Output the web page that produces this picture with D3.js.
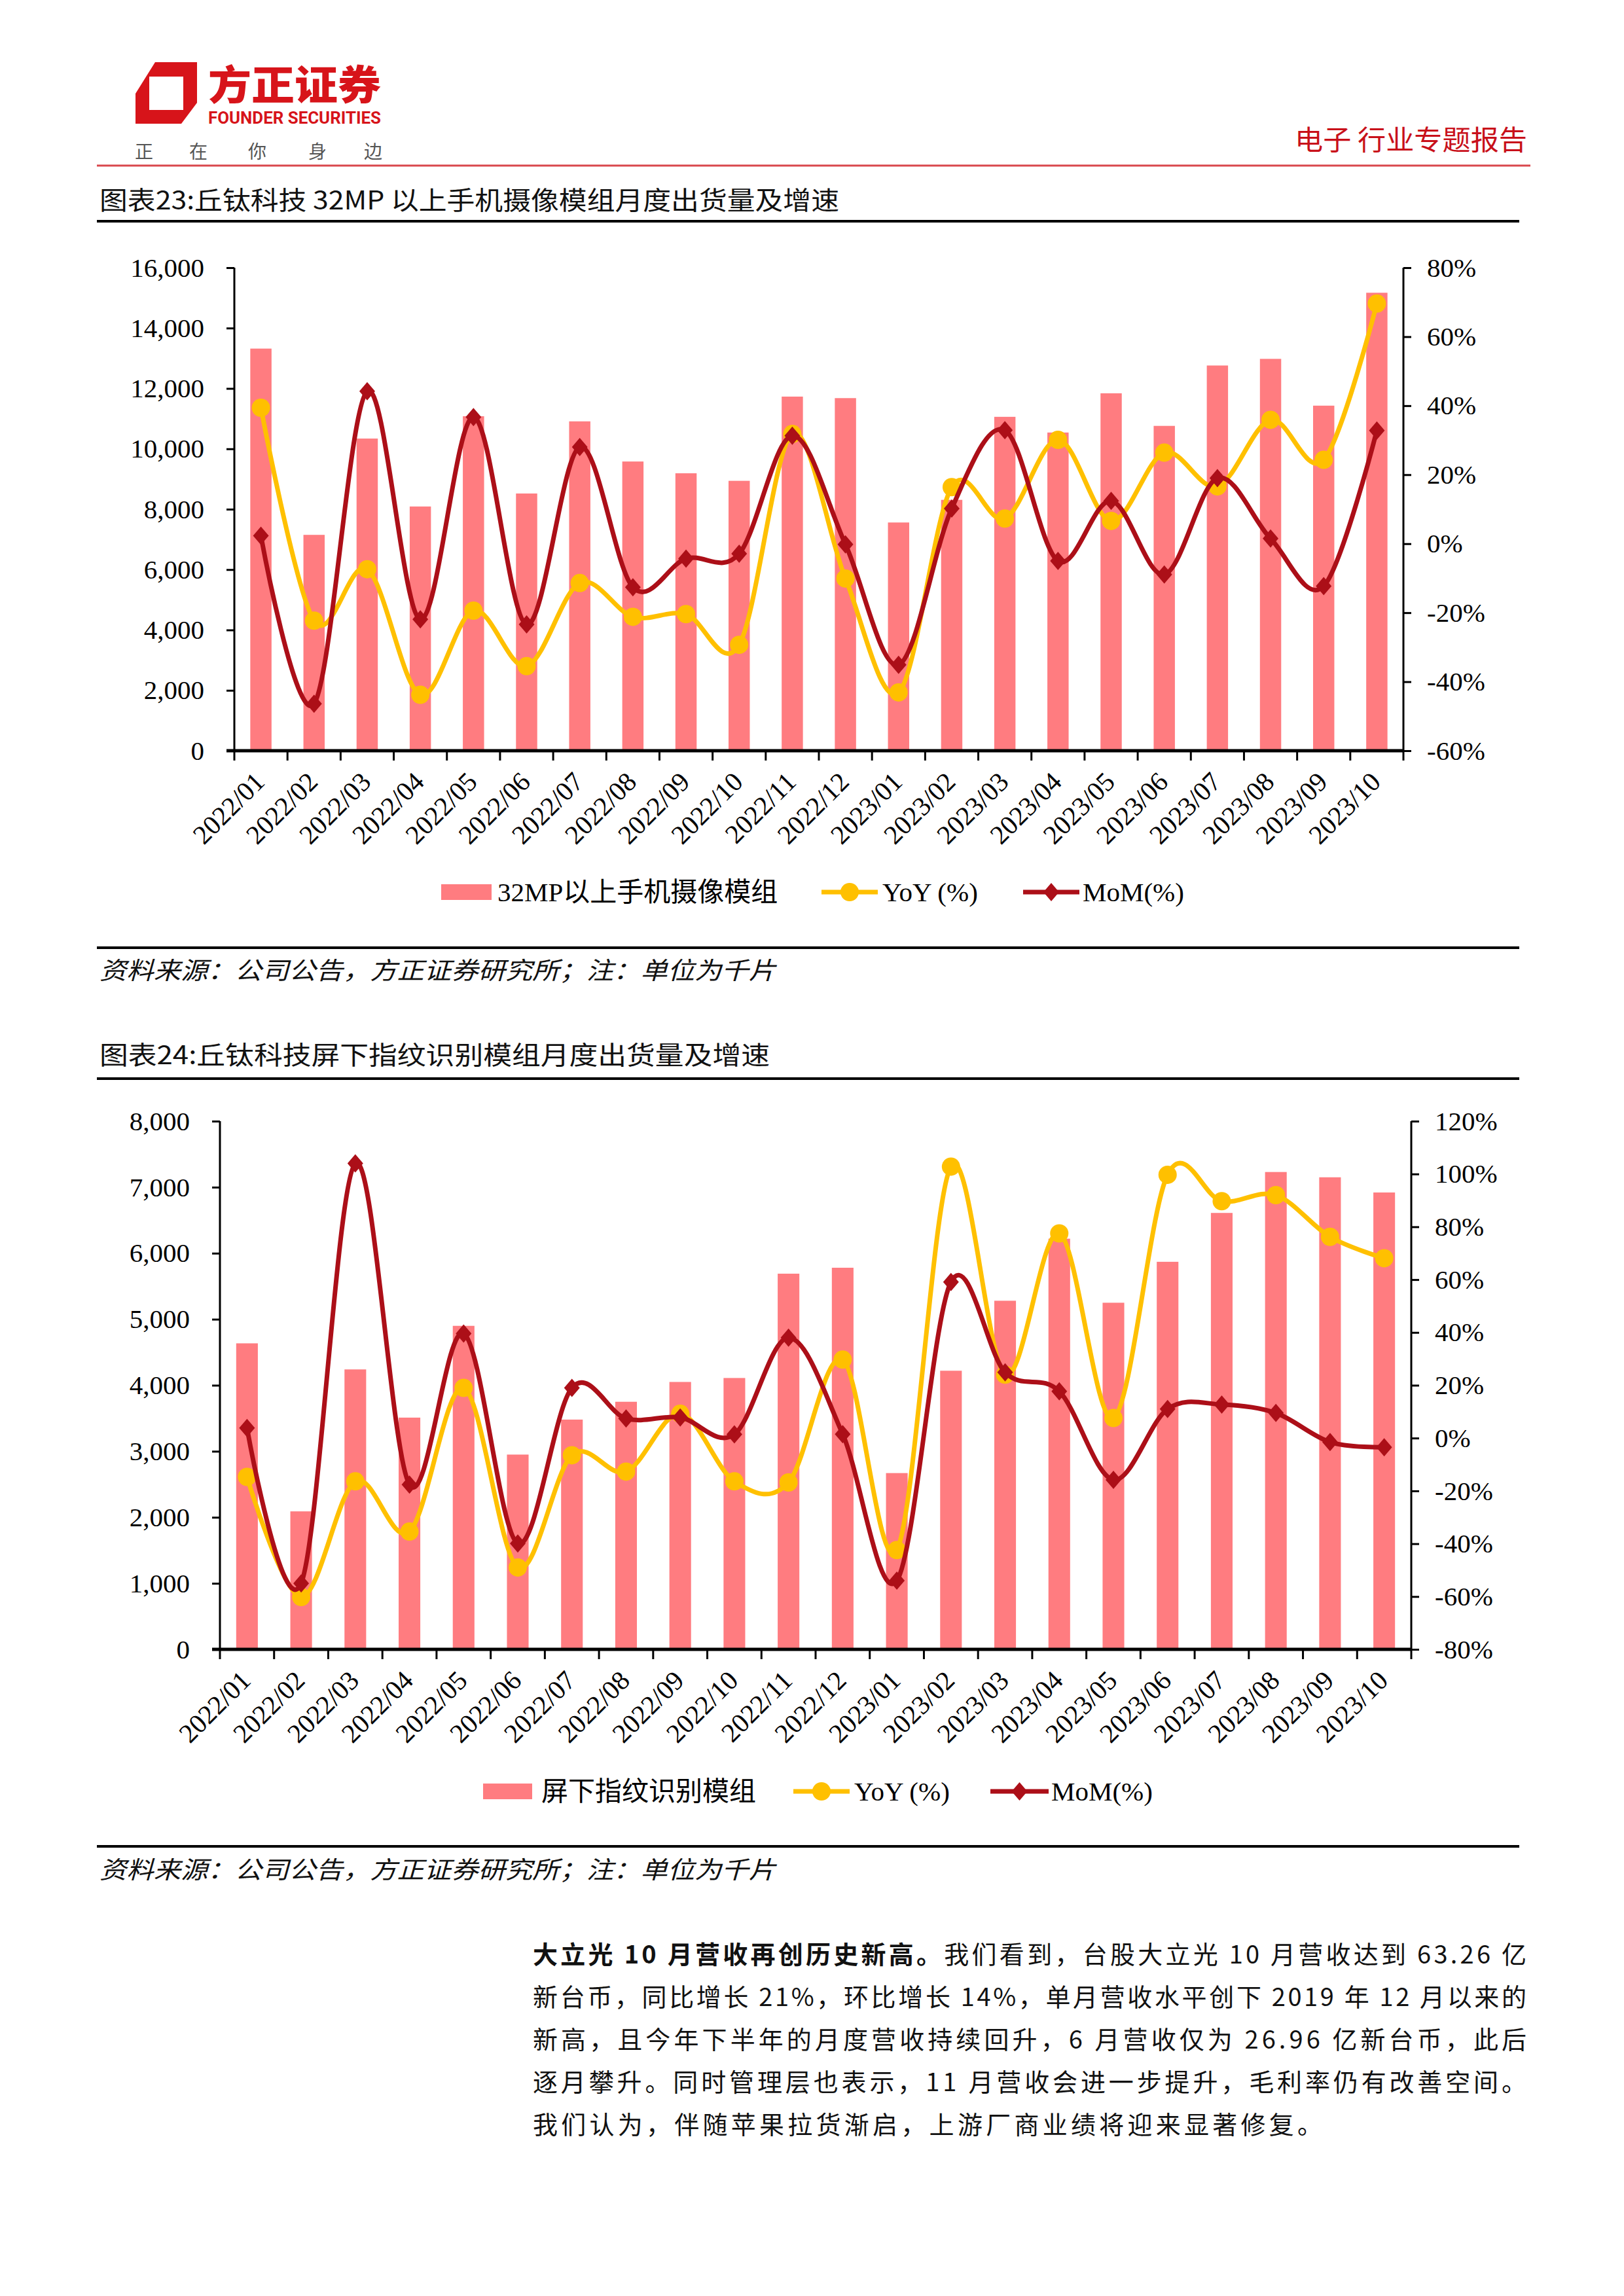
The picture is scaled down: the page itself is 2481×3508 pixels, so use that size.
<!DOCTYPE html>
<html><head><meta charset="utf-8">
<script src="https://cdn.jsdelivr.net/npm/d3@7"></script>
<style>
html,body{margin:0;padding:0;background:#fff;}
svg{display:block;}
</style></head>
<body>
<svg id="page" width="2481" height="3508"></svg>
<script>
// ---------- data ----------
const months = ['2022/01','2022/02','2022/03','2022/04','2022/05','2022/06','2022/07','2022/08','2022/09','2022/10','2022/11','2022/12',
                '2023/01','2023/02','2023/03','2023/04','2023/05','2023/06','2023/07','2023/08','2023/09','2023/10'];

const camVolume = [13320, 7150, 10340, 8090, 11080, 8520, 10910, 9580, 9190, 8940, 11730, 11680,
                   7560, 8310, 11060, 10540, 11840, 10760, 12760, 12980, 11430, 15170];
const camYoY = [39.4, -22.3, -7.4, -43.8, -19.4, -35.5, -11.4, -21.2, -20.4, -29.3, 31.8, -10.1,
                -43.1, 16.4, 7.3, 30.1, 6.6, 26.4, 16.6, 35.9, 24.3, 69.6];
const camMoM = [2.3, -46.4, 44.2, -21.9, 36.7, -23.4, 28.0, -12.6, -4.3, -2.9, 31.3, -0.2,
                -35.1, 10.2, 32.9, -5.0, 12.4, -8.9, 19.0, 1.5, -12.3, 32.8];

const fpVolume = [4635, 2090, 4240, 3510, 4900, 2950, 3480, 3750, 4050, 4110, 5690, 5780,
                  2670, 4220, 5280, 6220, 5250, 5870, 6610, 7230, 7150, 6920];
const fpYoY = [-14.7, -60.2, -16.4, -35.4, 19.0, -49.0, -6.5, -12.7, 9.2, -16.4, -16.8, 29.7,
               -42.4, 102.8, 24.0, 77.5, 7.6, 99.7, 89.7, 92.0, 76.2, 68.1];
const fpMoM = [3.8, -55.0, 104.0, -17.6, 39.6, -39.9, 19.0, 7.4, 7.8, 1.4, 38.0, 1.5,
               -54.0, 59.1, 24.9, 17.7, -15.8, 11.0, 12.7, 9.5, -1.5, -3.5];

const camLeftTicks = [0, 2000, 4000, 6000, 8000, 10000, 12000, 14000, 16000];
const camRightTicks = [-60, -40, -20, 0, 20, 40, 60, 80];
const fpLeftTicks = [0, 1000, 2000, 3000, 4000, 5000, 6000, 7000, 8000];
const fpRightTicks = [-80, -60, -40, -20, 0, 20, 40, 60, 80, 100, 120];

const camTitle = '图表23:丘钛科技 32MP 以上手机摄像模组月度出货量及增速';
const fpTitle = '图表24:丘钛科技屏下指纹识别模组月度出货量及增速';
const camLegend = ['32MP以上手机摄像模组', 'YoY (%)', 'MoM(%)'];
const fpLegend = ['屏下指纹识别模组', 'YoY (%)', 'MoM(%)'];
const sourceText = '资料来源：公司公告，方正证券研究所；注：单位为千片';

// ---------- style ----------
const BAR = '#FF7C80', YOY = '#FFC000', MOM = '#AC0F18';
const SERIF = '"Liberation Serif","Times New Roman","Noto Sans CJK SC",serif';
const CJK = '"Noto Sans CJK SC","Liberation Serif",sans-serif';
const svg = d3.select('#page');
svg.append('rect').attr('width', 2481).attr('height', 3508).attr('fill', '#fff');

// ---------- header ----------
const hdr = svg.append('g');
hdr.append('path')
  .attr('d', 'M237,95 L301,95 L301,157 L277,189 L207,189 L207,143 Z')
  .attr('fill', '#D7141A');
hdr.append('rect').attr('x', 228).attr('y', 117).attr('width', 52).attr('height', 51).attr('fill', '#fff');
hdr.append('text').attr('x', 318).attr('y', 153).attr('font-family', CJK).attr('font-weight', 900)
  .attr('font-size', 62).attr('fill', '#D7141A').attr('textLength', 264).attr('lengthAdjust', 'spacingAndGlyphs')
  .text('方正证券');
hdr.append('text').attr('x', 318).attr('y', 189).attr('font-family', '"Liberation Sans Narrow","Roboto","Open Sans",sans-serif')
  .attr('font-weight', 700).attr('font-size', 25).attr('fill', '#D7141A').attr('textLength', 264).attr('lengthAdjust', 'spacingAndGlyphs')
  .text('FOUNDER SECURITIES');
['正','在','你','身','边'].forEach((c, i) => {
  hdr.append('text').attr('x', [220, 303, 393, 485, 570][i]).attr('y', 242).attr('text-anchor', 'middle')
    .attr('font-family', CJK).attr('font-size', 28).attr('fill', '#555').text(c);
});
hdr.append('line').attr('x1', 148).attr('x2', 2338).attr('y1', 253).attr('y2', 253)
  .attr('stroke', '#D9474C').attr('stroke-width', 3);
hdr.append('text').attr('x', 1978).attr('y', 229).attr('font-family', CJK)
  .attr('font-size', 42).attr('fill', '#C8101A').attr('textLength', 355).attr('lengthAdjust', 'spacingAndGlyphs')
  .text('电子 行业专题报告');

// ---------- chart builder ----------
function drawChart(cfg) {
  const g = svg.append('g');
  // title + rules
  g.append('text').attr('x', 152).attr('y', cfg.titleY).attr('font-family', CJK).attr('font-size', 39)
    .attr('fill', '#111').attr('textLength', cfg.titleLen).attr('lengthAdjust', 'spacingAndGlyphs').text(cfg.title);
  g.append('line').attr('x1', 148).attr('x2', 2321).attr('y1', cfg.ruleY).attr('y2', cfg.ruleY)
    .attr('stroke', '#000').attr('stroke-width', 4);
  g.append('line').attr('x1', 148).attr('x2', 2321).attr('y1', cfg.srcRuleY).attr('y2', cfg.srcRuleY)
    .attr('stroke', '#000').attr('stroke-width', 4);
  g.append('text').attr('x', 152).attr('y', cfg.srcY).attr('font-family', CJK).attr('font-size', 37)
    .attr('font-style', 'italic').attr('fill', '#111').attr('textLength', 1033).attr('lengthAdjust', 'spacingAndGlyphs')
    .text(sourceText);

  const x = d3.scaleBand().domain(months).range([cfg.x0, cfg.x1]).paddingInner(0.6).paddingOuter(0.3);
  const step = x.step();
  const yL = d3.scaleLinear().domain(cfg.leftDomain).range([cfg.yBot, cfg.yTop]);
  const yR = d3.scaleLinear().domain(cfg.rightDomain).range([cfg.yBot, cfg.yTop]);
  const cx = m => x(m) + x.bandwidth() / 2;

  // bars
  g.append('g').selectAll('rect').data(months).join('rect')
    .attr('x', d => x(d)).attr('width', x.bandwidth())
    .attr('y', (d, i) => yL(cfg.vol[i])).attr('height', (d, i) => cfg.yBot - yL(cfg.vol[i]))
    .attr('fill', BAR);

  // axes
  const fmtL = d3.format(',');
  const leftAxis = d3.axisLeft(yL).tickValues(cfg.leftTicks).tickFormat(fmtL).tickSize(12).tickPadding(34);
  const la = g.append('g').attr('transform', `translate(${cfg.x0},0)`).call(leftAxis);
  const rightAxis = d3.axisRight(yR).tickValues(cfg.rightTicks).tickFormat(d => d + '%').tickSize(12).tickPadding(24);
  const ra = g.append('g').attr('transform', `translate(${cfg.x1},0)`).call(rightAxis);
  [la, ra].forEach(a => {
    a.select('.domain').attr('stroke', '#000').attr('stroke-width', 3)
      .attr('d', `M0,${cfg.yTop}V${cfg.yBot}`);
    a.selectAll('.tick line').attr('stroke', '#000').attr('stroke-width', 3);
    a.selectAll('.tick text').attr('font-family', SERIF).attr('font-size', 41).attr('fill', '#000');
  });

  // bottom axis with ticks on band boundaries
  const bottom = g.append('g');
  const bounds = months.map(m => x(m) - step * 0.3).concat([cfg.x1]);
  bottom.selectAll('line.tk').data(bounds).join('line').attr('class', 'tk')
    .attr('x1', d => d).attr('x2', d => d).attr('y1', cfg.yBot).attr('y2', cfg.yBot + 15)
    .attr('stroke', '#000').attr('stroke-width', 3);
  bottom.append('line').attr('x1', cfg.x0 - 12).attr('x2', cfg.x1).attr('y1', cfg.yBot).attr('y2', cfg.yBot)
    .attr('stroke', '#000').attr('stroke-width', 5);
  bottom.selectAll('text').data(months).join('text')
    .attr('transform', d => `translate(${cx(d) + 8},${cfg.yBot + 50}) rotate(-45)`)
    .attr('text-anchor', 'end').attr('font-family', SERIF).attr('font-size', 41).attr('fill', '#000')
    .text(d => d);

  // lines
  const line = d3.line().x(d => cx(d.m)).y(d => yR(d.v)).curve(d3.curveCardinal.tension(0));
  const yoy = months.map((m, i) => ({m, v: cfg.yoy[i]}));
  const mom = months.map((m, i) => ({m, v: cfg.mom[i]}));
  const diamond = 'M0,-14L12,0L0,14L-12,0Z';

  g.append('path').datum(yoy).attr('d', line).attr('fill', 'none').attr('stroke', YOY).attr('stroke-width', 7);
  g.append('g').selectAll('circle').data(yoy).join('circle')
    .attr('cx', d => cx(d.m)).attr('cy', d => yR(d.v)).attr('r', 14).attr('fill', YOY);
  g.append('path').datum(mom).attr('d', line).attr('fill', 'none').attr('stroke', MOM).attr('stroke-width', 7);
  g.append('g').selectAll('path').data(mom).join('path')
    .attr('d', diamond).attr('transform', d => `translate(${cx(d.m)},${yR(d.v)})`).attr('fill', MOM);

  // legend
  const L = cfg.legend, ly = cfg.legendY;
  g.append('rect').attr('x', L.rect[0]).attr('y', ly - 12).attr('width', L.rect[1] - L.rect[0]).attr('height', 24).attr('fill', BAR);
  g.append('text').attr('x', L.t1).attr('y', ly + 14).attr('font-family', SERIF).attr('font-size', 41).text(cfg.legendText[0]);
  g.append('line').attr('x1', L.m1[0]).attr('x2', L.m1[1]).attr('y1', ly).attr('y2', ly).attr('stroke', YOY).attr('stroke-width', 7);
  g.append('circle').attr('cx', (L.m1[0] + L.m1[1]) / 2).attr('cy', ly).attr('r', 14).attr('fill', YOY);
  g.append('text').attr('x', L.t2).attr('y', ly + 14).attr('font-family', SERIF).attr('font-size', 41).text(cfg.legendText[1]);
  g.append('line').attr('x1', L.m2[0]).attr('x2', L.m2[1]).attr('y1', ly).attr('y2', ly).attr('stroke', MOM).attr('stroke-width', 7);
  g.append('path').attr('d', diamond).attr('transform', `translate(${(L.m2[0] + L.m2[1]) / 2},${ly})`).attr('fill', MOM);
  g.append('text').attr('x', L.t3).attr('y', ly + 14).attr('font-family', SERIF).attr('font-size', 41).text(cfg.legendText[2]);
}

drawChart({
  title: camTitle, titleY: 320, titleLen: 1130, ruleY: 338,
  x0: 358, x1: 2144, yTop: 409, yBot: 1147,
  leftDomain: [0, 16000], rightDomain: [-60, 80],
  leftTicks: camLeftTicks, rightTicks: camRightTicks,
  vol: camVolume, yoy: camYoY, mom: camMoM,
  legendY: 1363, legendText: camLegend,
  legend: {rect: [674, 751], t1: 760, m1: [1255, 1341], t2: 1348, m2: [1563, 1649], t3: 1654},
  srcRuleY: 1448, srcY: 1496
});

drawChart({
  title: fpTitle, titleY: 1626, titleLen: 1024, ruleY: 1648,
  x0: 336, x1: 2156, yTop: 1713, yBot: 2520,
  leftDomain: [0, 8000], rightDomain: [-80, 120],
  leftTicks: fpLeftTicks, rightTicks: fpRightTicks,
  vol: fpVolume, yoy: fpYoY, mom: fpMoM,
  legendY: 2737, legendText: fpLegend,
  legend: {rect: [738, 813], t1: 827, m1: [1212, 1298], t2: 1305, m2: [1513, 1602], t3: 1606},
  srcRuleY: 2821, srcY: 2870
});

// ---------- paragraph ----------
const para = svg.append('g').attr('font-family', CJK).attr('font-size', 38).attr('fill', '#111');
const lines = [
  [['大立光 10 月营收再创历史新高。', true], ['我们看到，台股大立光 10 月营收达到 63.26 亿', false]],
  [['新台币，同比增长 21%，环比增长 14%，单月营收水平创下 2019 年 12 月以来的', false]],
  [['新高，且今年下半年的月度营收持续回升，6 月营收仅为 26.96 亿新台币，此后', false]],
  [['逐月攀升。同时管理层也表示，11 月营收会进一步提升，毛利率仍有改善空间。', false]],
  [['我们认为，伴随苹果拉货渐启，上游厂商业绩将迎来显著修复。', false]]
];
const baseY = [3000, 3065, 3130, 3195, 3260];
lines.forEach((ln, i) => {
  const t = para.append('text').attr('x', 814).attr('y', baseY[i]);
  if (i < 4) t.attr('textLength', 1518).attr('lengthAdjust', 'spacing');
  else t.attr('textLength', 1206).attr('lengthAdjust', 'spacing');
  ln.forEach(([s, b]) => t.append('tspan').attr('font-weight', b ? 700 : 400).text(s));
});
</script>
</body></html>
